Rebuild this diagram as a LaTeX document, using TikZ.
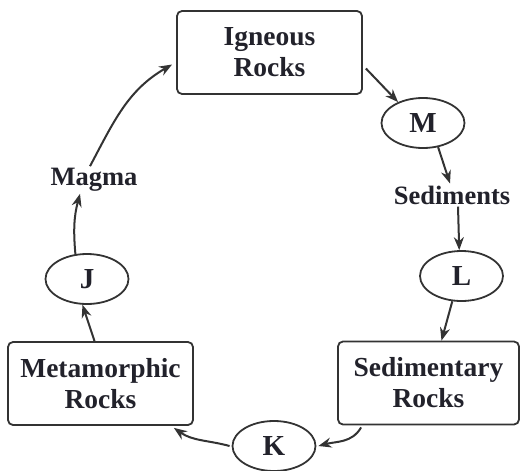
\documentclass[tikz,border=0pt]{standalone}
\usepackage{fontspec}
\setmainfont{Liberation Serif}
\usetikzlibrary{arrows.meta,shapes.geometric}
\definecolor{ink}{HTML}{22222B}
\definecolor{linec}{HTML}{333333}
\tikzset{
  rockbox/.style={draw=linec, line width=1.8pt, rounded corners=5pt, minimum width=185pt, minimum height=83pt, align=center, text=ink, font=\fontsize{27.5}{31}\selectfont\bfseries, inner sep=0pt},
  stage/.style={draw=linec, ellipse, line width=1.8pt, minimum width=83pt, minimum height=50pt, text=ink, font=\fontsize{29}{30}\selectfont\bfseries, inner sep=0pt},
  lbl/.style={text=ink, font=\fontsize{26.5}{28}\selectfont\bfseries, inner sep=2pt},
  flow/.style={draw=linec, line width=2pt, -{Stealth[length=13pt,width=10pt]}},
}
\begin{document}
\begin{tikzpicture}[x=1pt,y=1pt]
\useasboundingbox (0,0) rectangle (520,-471);
\node[rockbox] (ig) at (269.5,-52.5) {Igneous\\Rocks};
\node[rockbox, minimum width=181pt] (sr) at (428.5,-383) {Sedimentary\\Rocks};
\node[rockbox] (mr) at (100.5,-383.5) {Metamorphic\\Rocks};
\node[stage] (m) at (423,-123) {M};
\node[stage] (l) at (461.5,-276) {L};
\node[stage] (k) at (274,-446) {K};
\node[stage] (j) at (87,-279) {J};
\node[lbl] (sed) at (452,-195) {Sediments};
\node[lbl] (mag) at (94,-180) {Magma};
\draw[flow] ([shift={(3pt,-16pt)}]ig.east) -- (m.140);
\draw[flow] (m.-58) -- ([xshift=-2pt]sed.north);
\draw[flow] ([xshift=6pt]sed.south) -- (l.95);
\draw[flow] (l.-110) -- ([xshift=13pt]sr.north);
\draw[flow] ([xshift=24pt,yshift=-2pt]sr.south west) to[out=-120,in=15] ([xshift=2pt]k.east);
\draw[flow] ([xshift=-2pt]k.west) to[out=165,in=-35] ([xshift=-20pt,yshift=-2pt]mr.south east);
\draw[flow] ([xshift=-6pt]mr.north) -- (j.-100);
\draw[flow] (j.115) to[out=95,in=-105] ([xshift=-14pt]mag.south);
\draw[flow] ([xshift=-4pt]mag.north) to[out=62,in=-150] ([shift={(-4pt,-12pt)}]ig.west);
\end{tikzpicture}
\end{document}
